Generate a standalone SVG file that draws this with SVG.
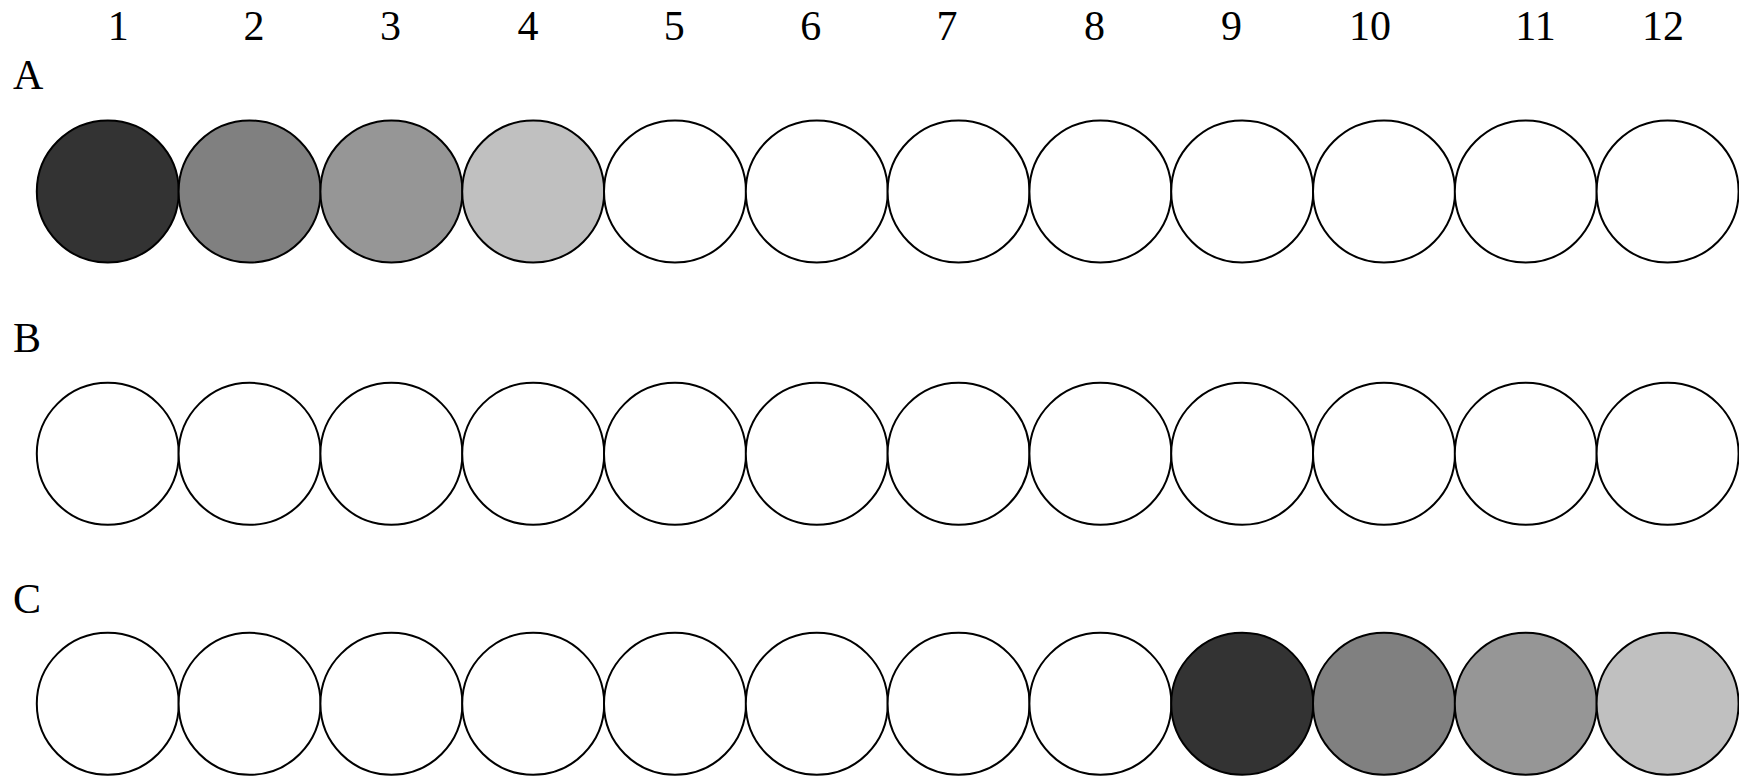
<svg xmlns="http://www.w3.org/2000/svg" width="1739" height="777" viewBox="0 0 1739 777">
<style>
.n{text-anchor:middle}
circle{stroke:#000;stroke-width:2;fill:#fff}
.d1{fill:#333333}.d2{fill:#808080}.d3{fill:#969696}.d4{fill:#c0c0c0}
</style>
<rect width="1739" height="777" fill="#fff"/>
<g id="col-labels" font-family="Liberation Serif, Times New Roman, serif" font-size="42" fill="#000">
<text class="n" x="118.3" y="40">1</text>
<text class="n" x="254" y="40">2</text>
<text class="n" x="390.4" y="40">3</text>
<text class="n" x="527.9" y="40">4</text>
<text class="n" x="674.3" y="40">5</text>
<text class="n" x="810.7" y="40">6</text>
<text class="n" x="947.1" y="40">7</text>
<text class="n" x="1094.6" y="40">8</text>
<text class="n" x="1231.5" y="40">9</text>
<text class="n" x="1370" y="40">10</text>
<text class="n" x="1535.5" y="40">11</text>
<text class="n" x="1663" y="40">12</text>
</g>
<g id="row-labels" font-family="Liberation Serif, Times New Roman, serif" font-size="42" fill="#000">
<text x="13" y="89">A</text>
<text x="13" y="352">B</text>
<text x="13" y="613">C</text>
</g>
<g id="row-A">
<circle class="d1" cx="107.8" cy="191.5" r="71"/>
<circle class="d2" cx="249.6" cy="191.5" r="71"/>
<circle class="d3" cx="391.4" cy="191.5" r="71"/>
<circle class="d4" cx="533.2" cy="191.5" r="71"/>
<circle cx="675" cy="191.5" r="71"/>
<circle cx="816.8" cy="191.5" r="71"/>
<circle cx="958.6" cy="191.5" r="71"/>
<circle cx="1100.4" cy="191.5" r="71"/>
<circle cx="1242.2" cy="191.5" r="71"/>
<circle cx="1384" cy="191.5" r="71"/>
<circle cx="1525.8" cy="191.5" r="71"/>
<circle cx="1667.6" cy="191.5" r="71"/>
</g>
<g id="row-B">
<circle cx="107.8" cy="453.8" r="71"/>
<circle cx="249.6" cy="453.8" r="71"/>
<circle cx="391.4" cy="453.8" r="71"/>
<circle cx="533.2" cy="453.8" r="71"/>
<circle cx="675" cy="453.8" r="71"/>
<circle cx="816.8" cy="453.8" r="71"/>
<circle cx="958.6" cy="453.8" r="71"/>
<circle cx="1100.4" cy="453.8" r="71"/>
<circle cx="1242.2" cy="453.8" r="71"/>
<circle cx="1384" cy="453.8" r="71"/>
<circle cx="1525.8" cy="453.8" r="71"/>
<circle cx="1667.6" cy="453.8" r="71"/>
</g>
<g id="row-C">
<circle cx="107.8" cy="703.8" r="71"/>
<circle cx="249.6" cy="703.8" r="71"/>
<circle cx="391.4" cy="703.8" r="71"/>
<circle cx="533.2" cy="703.8" r="71"/>
<circle cx="675" cy="703.8" r="71"/>
<circle cx="816.8" cy="703.8" r="71"/>
<circle cx="958.6" cy="703.8" r="71"/>
<circle cx="1100.4" cy="703.8" r="71"/>
<circle class="d1" cx="1242.2" cy="703.8" r="71"/>
<circle class="d2" cx="1384" cy="703.8" r="71"/>
<circle class="d3" cx="1525.8" cy="703.8" r="71"/>
<circle class="d4" cx="1667.6" cy="703.8" r="71"/>
</g>
<g id="connectors"/>
</svg>
